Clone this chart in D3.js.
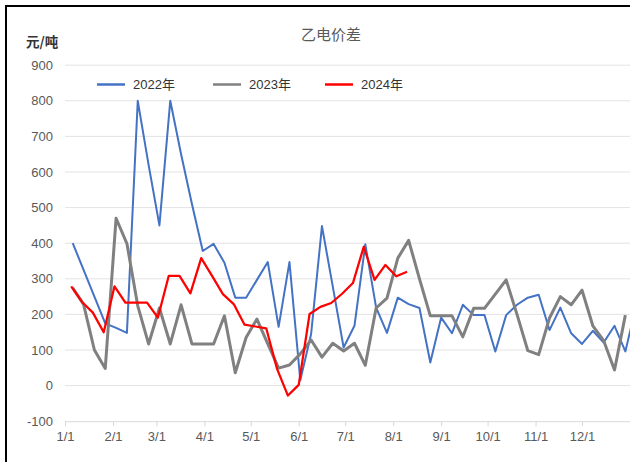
<!DOCTYPE html>
<html><head><meta charset="utf-8">
<script src="https://cdn.jsdelivr.net/npm/d3@7"></script>
<style>
html,body{margin:0;padding:0;background:#fff;}
svg{display:block;font-family:"Liberation Sans",Arial,"Noto Sans CJK SC",sans-serif;}
</style></head>
<body><svg id="c" width="630" height="462"></svg>
<script>
// ---- data ----
const seriesNames = ["2022年", "2023年", "2024年"];
const startDates = ["2022-01-06", "2022-01-06", "2022-01-05"]; // first weekly observation (mapped onto one calendar year)
const values2022 = [400,325,250,175,162,148,800,620,450,800,650,510,378,398,345,247,247,297,347,165,347,15,145,448,278,107,168,397,219,148,247,229,218,65,191,147,227,198,198,96,198,227,247,255,156,219,147,117,154,121,168,96,225];
const values2023 = [275,228,100,48,470,399,224,117,218,117,227,117,117,117,196,36,135,187,117,49,58,89,128,80,119,97,119,57,218,246,358,408,300,196,196,196,137,217,217,257,297,200,98,87,190,250,227,268,168,126,44,198];
const values2024 = [279,235,205,150,279,233,233,233,191,308,308,259,358,308,257,229,171,166,161,47,-28,2,201,221,232,258,288,390,297,339,307,320];
const yTicks = [-100,0,100,200,300,400,500,600,700,800,900];
const monthLabels = ["1/1","2/1","3/1","4/1","5/1","6/1","7/1","8/1","9/1","10/1","11/1","12/1"];
const title = "乙电价差";
const unit = "元/吨";
const colors = ["#4472C4", "#808080", "#FF0000"];
const widths = [2, 3, 2.25];

const svg = d3.select("#c");
const L = 65, R = 630, T = 65.2, B = 421.2;
const x = d3.scaleTime().domain([new Date(2022,0,1), new Date(2023,0,1)]).range([L, R]);
const y = d3.scaleLinear().domain([-100, 900]).range([B, T]);

// frame (cropped border)
svg.append("line").attr("x1",6).attr("x2",6).attr("y1",5).attr("y2",462).attr("stroke","#000").attr("stroke-width",2);
svg.append("line").attr("x1",5).attr("x2",630).attr("y1",6).attr("y2",6).attr("stroke","#000").attr("stroke-width",2);

// gridlines
svg.append("g").selectAll("line").data(yTicks.filter(d=>d>-100)).join("line")
  .attr("x1",L).attr("x2",R).attr("y1",d=>y(d)).attr("y2",d=>y(d))
  .attr("stroke","#e3e3e3").attr("stroke-width",1);

// y labels
svg.append("g").selectAll("text").data(yTicks).join("text")
  .attr("x",53).attr("y",d=>y(d)).attr("dy","0.36em").attr("text-anchor","end")
  .attr("font-size",13).attr("fill","#595959").text(d=>d);

// x axis
const monthDates = d3.range(12).map(m=>new Date(2022,m,1));
const xAxis = d3.axisBottom(x).tickValues(monthDates.concat([new Date(2023,0,1)]))
  .tickFormat((d,i)=> i<12 ? monthLabels[i] : "").tickSize(5).tickPadding(6);
const gx = svg.append("g").attr("transform",`translate(0,${B})`).call(xAxis);
gx.select(".domain").attr("stroke","#d9d9d9");
gx.selectAll(".tick line").attr("stroke","#d9d9d9");
gx.selectAll(".tick text").attr("font-size",13).attr("fill","#595959")
  .attr("font-family","'Liberation Sans',Arial,sans-serif");

// lines
const allValues = [values2022, values2023, values2024];
const series = allValues.map((vals,k)=>{
  const s = new Date(startDates[k]+"T00:00:00");
  return vals.map((v,i)=>({date:d3.timeDay.offset(s, 7*i), value:v}));
});
const line = d3.line().x(d=>x(d.date)).y(d=>y(d.value));
svg.append("defs").append("clipPath").attr("id","pc").append("rect")
  .attr("x",L-10).attr("y",0).attr("width",R-L+10).attr("height",462);
svg.append("g").attr("clip-path","url(#pc)").selectAll("path").data(series).join("path")
  .attr("d",line).attr("fill","none")
  .attr("stroke",(d,i)=>colors[i]).attr("stroke-width",(d,i)=>widths[i])
  .attr("stroke-linejoin","round");

// title & unit
svg.append("text").attr("x",331).attr("y",40).attr("text-anchor","middle")
  .attr("font-size",15).attr("fill","#595959").attr("font-family","'Noto Sans CJK SC',sans-serif").text(title);
svg.append("text").attr("x",26).attr("y",47).attr("font-size",13.5).attr("fill","#333")
  .attr("font-family","'Noto Sans CJK SC',sans-serif").attr("font-weight","bold").text(unit);

// legend
const legX = [97, 213, 325];
const lg = svg.append("g").selectAll("g").data(seriesNames).join("g")
  .attr("transform",(d,i)=>`translate(${legX[i]},84.5)`);
lg.append("line").attr("x1",0).attr("x2",28).attr("stroke",(d,i)=>colors[i]).attr("stroke-width",2.5);
lg.append("text").attr("x",36).attr("dy","0.36em").attr("font-size",13).attr("fill","#333").text(d=>d);
</script></body></html>
